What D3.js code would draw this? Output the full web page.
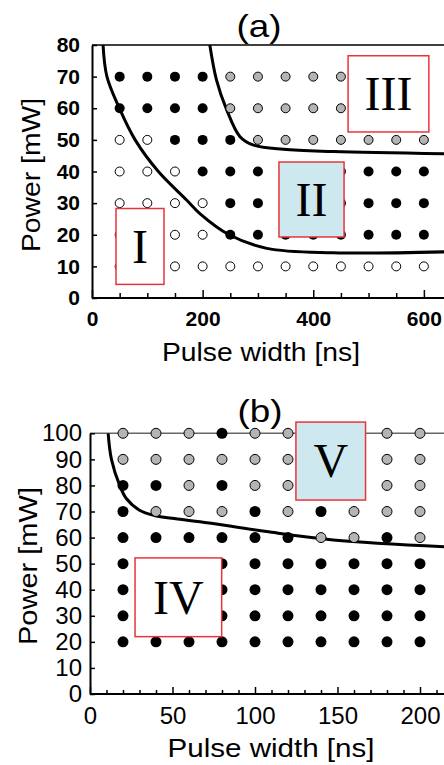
<!DOCTYPE html>
<html>
<head>
<meta charset="utf-8">
<script src="https://cdn.jsdelivr.net/npm/d3@7"></script>
<style>
  body { margin: 0; background: #fff; }
  svg { display: block; }
</style>
</head>
<body>
<div id="chart"></div>
<script>
// ---- panel (a) data ----
const widthsA = [50, 100, 150, 200, 250, 300, 350, 400, 450, 500, 550, 600];
const powersA = [70, 60, 50, 40, 30, 20, 10];
// b = black, g = gray, o = open ; one string per power row
const statesA = [
    "bbbbgggggggg",
    "bbbbgggggggg",
    "oobbbggggggg",
    "ooobbbbbbbbb",
    "oooobbbbbbbb",
    "oooobbbbbbbb",
    "oooooooooooo"
];
const curveA1 = [[20, 80], [27, 70], [49.5, 60], [78, 50], [120, 40], [171, 31], [195, 26.7],
                 [248, 20], [316, 15.7], [436, 14.3], [640, 14.6]];
const curveA2 = [[213, 80], [225, 69], [243.5, 59.5], [267.6, 51], [291, 48.4], [346, 47],
                 [436, 46.3], [640, 45.6]];
const ticksXA = [0, 50, 100, 150, 200, 250, 300, 350, 400, 450, 500, 550, 600];
const ticksYA = [0, 10, 20, 30, 40, 50, 60, 70, 80];
// regions: label, x0, x1, y0, y1 (ns / mW), tinted
const boxesA = [
    {label: "I", x0: 43.4, x1: 130.2, y0: 4.3, y1: 28.3, tint: false},
    {label: "II", x0: 338, x1: 455.7, y0: 19.3, y1: 43, tint: true},
    {label: "III", x0: 463, x1: 609, y0: 52.5, y1: 76.6, tint: false}
];

// ---- panel (b) data ----
const widthsB = [20, 40, 60, 80, 100, 120, 140, 160, 180, 200];
const powersB = [100, 90, 80, 70, 60, 50, 40, 30, 20];
const statesB = [
    "gggbgggggg",
    "gggggggggg",
    "bbgbgggggg",
    "bgggbgbggg",
    "bbbbbbggbg",
    "bbbbbbbbbb",
    "bbbbbbbbbb",
    "bbbbbbbbbb",
    "bbbbbbbbbb"
];
const curveB = [[11, 100], [13, 90], [18, 80], [22, 75], [30, 70.5], [39, 68.5], [54.5, 67],
                [66.7, 66.1], [107, 62.3], [147.5, 59.1], [215, 56.5]];
const ticksXB = [0, 10, 20, 30, 40, 50, 60, 70, 80, 90, 100, 110, 120, 130, 140, 150, 160, 170, 180, 190, 200, 210];
const ticksYB = [0, 10, 20, 30, 40, 50, 60, 70, 80, 90, 100];
const boxesB = [
    {label: "IV", x0: 27.3, x1: 79.8, y0: 22, y1: 52.2, tint: false},
    {label: "V", x0: 124.8, x1: 167, y0: 74.4, y1: 104.3, tint: true}
];

const W = 444, H = 765;
const fillOf = {b: "#000", g: "#b4b4b4", o: "#fff"};
const sans = "'Liberation Sans', Arial, Helvetica, sans-serif";
const serif = "'Liberation Serif', 'Times New Roman', serif";

const svg = d3.select("#chart").append("svg")
    .attr("width", W)
    .attr("height", H);

function drawPanel(p) {
    const x = d3.scaleLinear().domain(p.xDomain).range(p.xRange);
    const y = d3.scaleLinear().domain(p.yDomain).range(p.yRange);
    const g = svg.append("g");

    // top frame line
    g.append("line")
        .attr("x1", x(0)).attr("x2", x(p.xDomain[1]))
        .attr("y1", y(p.yDomain[1])).attr("y2", y(p.yDomain[1]))
        .attr("stroke", p.topColor)
        .attr("stroke-width", 1.5);

    // boundary curves
    const line = d3.line()
        .x(d => x(d[0]))
        .y(d => y(d[1]))
        .curve(d3.curveCatmullRom.alpha(0.5));
    g.selectAll("path.boundary")
        .data(p.curves)
        .join("path")
        .attr("class", "boundary")
        .attr("d", line)
        .attr("fill", "none")
        .attr("stroke", "#000")
        .attr("stroke-width", 3);

    // measurement points
    const pts = [];
    p.powers.forEach((pw, i) => {
        p.widths.forEach((w, j) => pts.push({w: w, p: pw, s: p.states[i][j]}));
    });
    g.selectAll("circle")
        .data(pts)
        .join("circle")
        .attr("cx", d => x(d.w))
        .attr("cy", d => y(d.p))
        .attr("r", d => d.s === "b" ? p.r : p.r - 0.5)
        .attr("fill", d => fillOf[d.s])
        .attr("stroke", "#000")
        .attr("stroke-width", d => d.s === "b" ? 0 : 1);

    // region boxes
    const boxes = g.selectAll("g.box")
        .data(p.boxes)
        .join("g")
        .attr("class", "box");
    boxes.append("rect")
        .attr("x", d => x(d.x0))
        .attr("y", d => y(d.y1))
        .attr("width", d => x(d.x1) - x(d.x0))
        .attr("height", d => y(d.y0) - y(d.y1))
        .attr("fill", d => d.tint ? "#cde8ee" : "#fff")
        .attr("stroke", "#e8353b")
        .attr("stroke-width", 1.5);
    boxes.append("text")
        .attr("x", d => (x(d.x0) + x(d.x1)) / 2)
        .attr("y", d => (y(d.y0) + y(d.y1)) / 2)
        .attr("dy", "0.34em")
        .attr("text-anchor", "middle")
        .attr("font-family", serif)
        .attr("font-size", 48)
        .text(d => d.label);

    // axes
    const xAxis = g.append("g")
        .attr("transform", `translate(0,${y(0)})`)
        .call(d3.axisBottom(x)
            .tickValues(p.xTicks)
            .tickSize(-p.minorTick)
            .tickSizeOuter(0)
            .tickPadding(13)
            .tickFormat(d => d % p.xLabelEvery === 0 ? d : ""));
    xAxis.selectAll(".tick line")
        .filter(d => d % p.xMajorEvery === 0)
        .attr("y2", -p.majorTick);

    const yAxis = g.append("g")
        .attr("transform", `translate(${x(0)},0)`)
        .call(d3.axisLeft(y)
            .tickValues(p.yTicks)
            .tickSize(-5)
            .tickSizeOuter(0)
            .tickPadding(p.yPad));

    [xAxis, yAxis].forEach(a => {
        a.select(".domain").attr("stroke-width", 2);
        a.selectAll(".tick line").attr("stroke-width", 1.5);
        a.selectAll(".tick text")
            .attr("fill", "#000")
            .attr("font-family", sans)
            .attr("font-weight", p.tickWeight)
            .attr("font-size", p.tickSize);
    });
    xAxis.select(".domain").attr("d", `M${x(0)},0H${x(p.xDomain[1])}`);

    // titles
    g.append("text")
        .attr("x", p.titleX).attr("y", p.titleY)
        .attr("text-anchor", "middle")
        .attr("font-family", sans)
        .attr("font-size", 32)
        .attr("textLength", 45)
        .attr("lengthAdjust", "spacingAndGlyphs")
        .text(p.title);

    g.append("text")
        .attr("x", p.xLabelX).attr("y", p.xLabelY)
        .attr("text-anchor", "middle")
        .attr("font-family", sans)
        .attr("font-size", 25)
        .attr("textLength", p.xLabelLen)
        .attr("lengthAdjust", "spacingAndGlyphs")
        .text("Pulse width [ns]");

    g.append("text")
        .attr("transform", `translate(${p.yLabelX},${p.yLabelY}) rotate(-90)`)
        .attr("text-anchor", "middle")
        .attr("font-family", sans)
        .attr("font-size", 26)
        .attr("textLength", p.yLabelLen)
        .attr("lengthAdjust", "spacingAndGlyphs")
        .text("Power [mW]");
}

drawPanel({
    xDomain: [0, 640], xRange: [92, 446],
    yDomain: [0, 80], yRange: [298, 45],
    widths: widthsA, powers: powersA, states: statesA,
    curves: [curveA1, curveA2], boxes: boxesA, r: 5,
    xTicks: ticksXA, yTicks: ticksYA,
    xLabelEvery: 200, xMajorEvery: 200, minorTick: 5, majorTick: 8,
    yPad: 12, tickWeight: "bold", tickSize: 21,
    topColor: "#000",
    title: "(a)", titleX: 259, titleY: 37,
    xLabelX: 261, xLabelY: 361, xLabelLen: 198,
    yLabelX: 40, yLabelY: 175, yLabelLen: 154
});

drawPanel({
    xDomain: [0, 215], xRange: [90, 444.75],
    yDomain: [0, 100], yRange: [694, 433.3],
    widths: widthsB, powers: powersB, states: statesB,
    curves: [curveB], boxes: boxesB, r: 5.5,
    xTicks: ticksXB, yTicks: ticksYB,
    xLabelEvery: 50, xMajorEvery: 50, minorTick: 4, majorTick: 7,
    yPad: 8, tickWeight: "normal", tickSize: 24,
    topColor: "#666",
    title: "(b)", titleX: 260, titleY: 422,
    xLabelX: 271, xLabelY: 757, xLabelLen: 207,
    yLabelX: 37, yLabelY: 566, yLabelLen: 158
});
</script>
</body>
</html>
